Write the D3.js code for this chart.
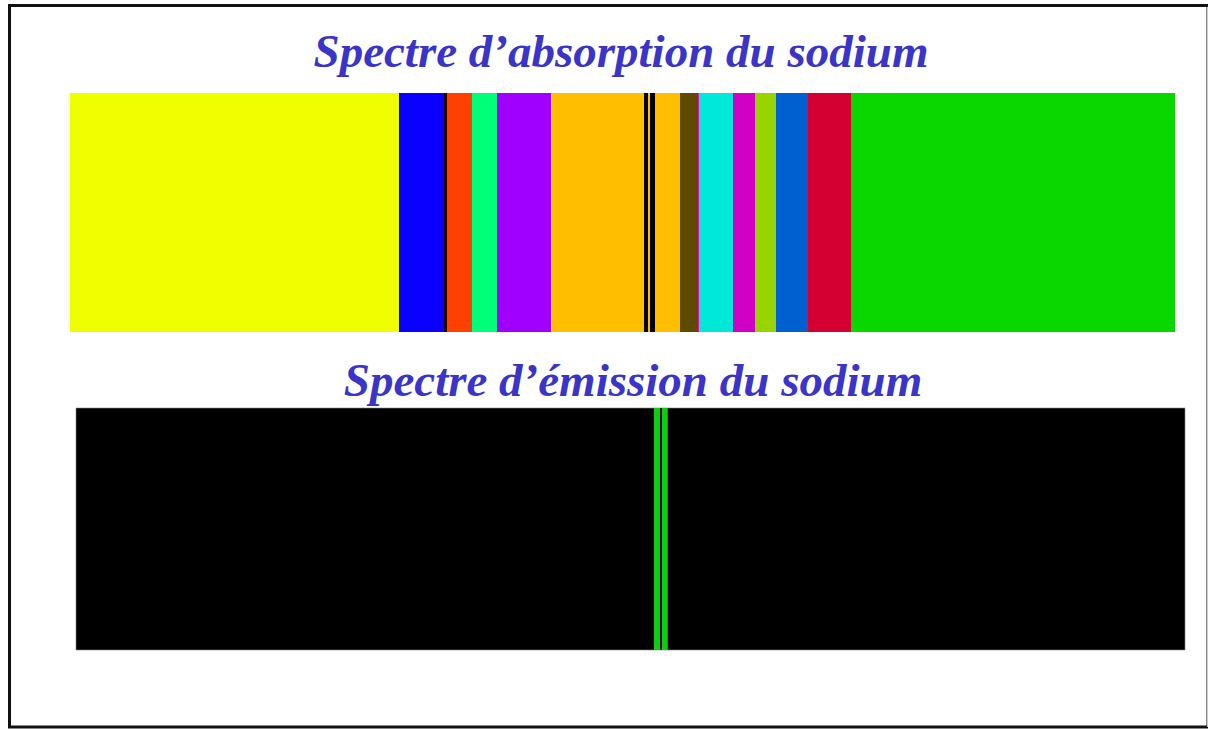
<!DOCTYPE html>
<html>
<head>
<meta charset="utf-8">
<script src="https://cdn.jsdelivr.net/npm/d3@7"></script>
<style>
  body { margin: 0; background: #fff; }
  svg { display: block; }
</style>
</head>
<body>
<svg id="spectre" width="1208" height="729"></svg>
<script>
// titles
let titles = ["Spectre d\u2019absorption du sodium", "Spectre d\u2019\u00e9mission du sodium"];

// absorption strip: band start positions (strip units) and colours
let absStarts = [0, 329, 374, 377, 402, 427, 481, 574, 578, 580, 585, 610, 628, 629, 663, 685, 706, 738, 781];
let absColors = ['#f0ff00', '#0a00ff', '#1a0a00', '#ff4000', '#00ff78', '#a000ff', '#ffbe00', '#000000', '#ffbe00',
                 '#000000', '#ffbe00', '#5e4a00', '#ff00c0', '#00e8d8', '#d000c4', '#98d400', '#0060d0', '#d40032', '#08d800'];
let absEnd = 1105;

// emission strip: lines on black background
let emiStarts = [578, 586, 591];
let emiEnds = [584, 591, 592];
let emiColors = ['#10cc10', '#10cc10', '#8a5a00'];
let emiEnd = 1109;

d3.select(window).on('load', init);

function init() {
    let svg = d3.select('#spectre');

    // frame
    svg.append('rect')
        .attr('x', 9.5).attr('y', 5.5)
        .attr('width', 1208 - 9.5).attr('height', 721.5)
        .attr('fill', '#fff')
        .attr('stroke', '#111')
        .attr('stroke-width', 3);
    svg.append('line')
        .attr('x1', 1207.5).attr('x2', 1207.5)
        .attr('y1', 7).attr('y2', 727)
        .attr('stroke', '#ccc');

    // absorption
    let xa = d3.scaleLinear().domain([0, absEnd]).range([70, 1175]);
    let ya = {top: 93, bottom: 332};
    let absBands = absStarts.map((s, i) => ({
        start: s,
        end: i < absStarts.length - 1 ? absStarts[i + 1] : absEnd,
        color: absColors[i]
    }));

    svg.append('g').attr('class', 'absorption')
        .selectAll('rect')
        .data(absBands)
        .enter()
        .append('rect')
        .attr('x', d => xa(d.start))
        .attr('width', d => xa(d.end) - xa(d.start))
        .attr('y', ya.top)
        .attr('height', ya.bottom - ya.top)
        .attr('fill', d => d.color);

    // emission
    let xe = d3.scaleLinear().domain([0, emiEnd]).range([76, 1185]);
    let ye = {top: 408, bottom: 650};
    let g = svg.append('g').attr('class', 'emission');
    g.append('rect')
        .attr('x', xe(0)).attr('width', xe(emiEnd) - xe(0))
        .attr('y', ye.top).attr('height', ye.bottom - ye.top)
        .attr('fill', '#000')
        .attr('stroke', '#888')
        .attr('stroke-width', 0.6);
    g.selectAll('.line')
        .data(emiStarts)
        .enter()
        .append('rect')
        .attr('class', 'line')
        .attr('x', d => xe(d))
        .attr('width', (d, i) => xe(emiEnds[i]) - xe(d))
        .attr('y', ye.top)
        .attr('height', ye.bottom - ye.top)
        .attr('fill', (d, i) => emiColors[i]);

    // titles
    svg.selectAll('.title')
        .data(titles)
        .enter()
        .append('text')
        .attr('class', 'title')
        .attr('x', (d, i) => i ? 633 : 621)
        .attr('y', (d, i) => i ? 396 : 67)
        .attr('text-anchor', 'middle')
        .attr('font-family', '"Liberation Serif", "Times New Roman", serif')
        .attr('font-style', 'italic')
        .attr('font-weight', 'bold')
        .attr('font-size', 47)
        .attr('fill', '#3a35c8')
        .text(d => d);
}
</script>
</body>
</html>
